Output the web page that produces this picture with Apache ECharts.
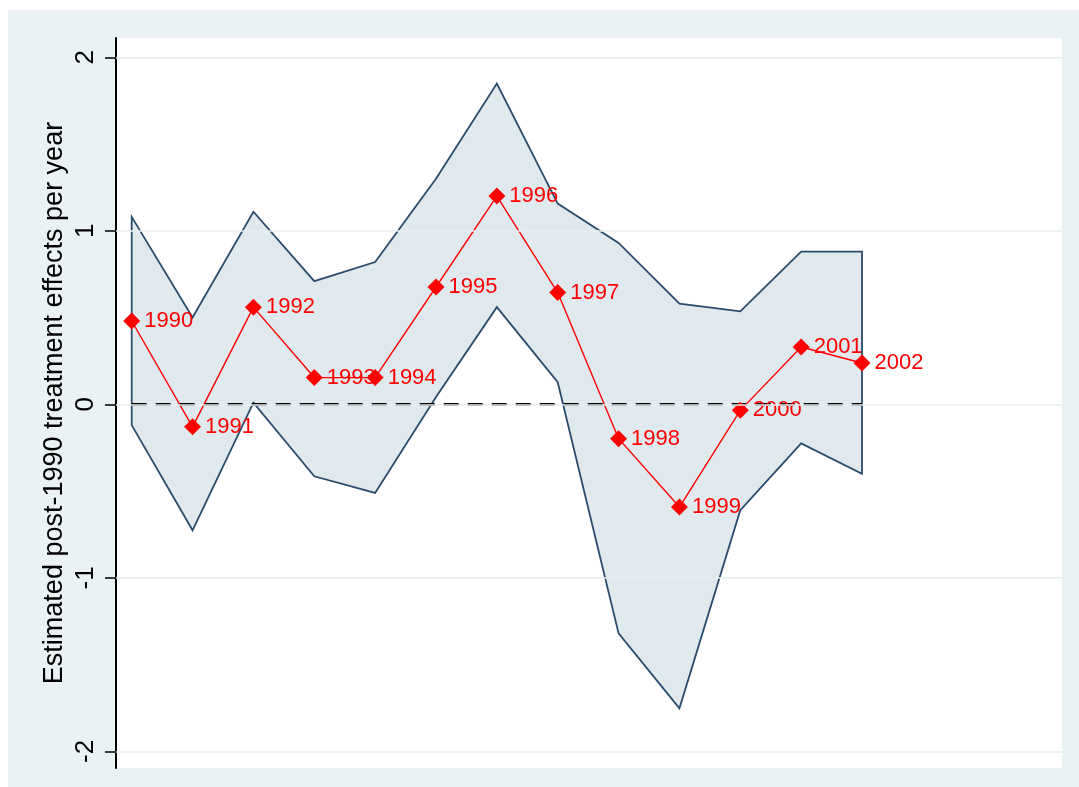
<!DOCTYPE html>
<html>
<head>
<meta charset="utf-8">
<script src="https://cdn.jsdelivr.net/npm/echarts@6/dist/echarts.min.js"></script>
<style>
  html, body { margin: 0; padding: 0; background: #ffffff; width: 1079px; height: 787px; overflow: hidden; }
  #chart { position: absolute; left: 8px; top: 10px; width: 1071px; height: 777px; }
</style>
</head>
<body>
<div id="chart"></div>
<script>
const years = [1990, 1991, 1992, 1993, 1994, 1995, 1996, 1997, 1998, 1999, 2000, 2001, 2002];
const effect = [0.48, -0.13, 0.56, 0.154, 0.154, 0.676, 1.20, 0.644, -0.198, -0.592, -0.035, 0.33, 0.238];
const upperCI = [1.08, 0.50, 1.11, 0.71, 0.82, 1.30, 1.848, 1.157, 0.93, 0.58, 0.536, 0.88, 0.88];
const lowerCI = [-0.12, -0.726, 0.01, -0.415, -0.511, 0.042, 0.56, 0.127, -1.32, -1.752, -0.61, -0.225, -0.40];
const yTicks = [-2, -1, 0, 1, 2];
const zeroLine = [[1990, 0], [2002, 0]];
const yTitle = 'Estimated post-1990 treatment effects per year';

const FONT = '"Liberation Sans", Arial, sans-serif';
const chart = echarts.init(document.getElementById('chart'));

const option = {
  animation: false,
  backgroundColor: '#eaf2f3',
  grid: {
    left: 108, top: 28, right: 17, bottom: 19,
    show: true, backgroundColor: '#ffffff', borderWidth: 0
  },
  xAxis: {
    type: 'value', min: 1989.742, max: 2005.286,
    show: false
  },
  yAxis: {
    type: 'value', min: -2.096, max: 2.111,
    name: yTitle, nameLocation: 'middle', nameRotate: 90, nameGap: 48,
    nameMoveOverlap: false,
    nameTextStyle: { fontFamily: FONT, fontSize: 27, color: '#000' },
    axisLine: { show: true, lineStyle: { color: '#000', width: 2 } },
    axisTick: { show: true, length: 11, customValues: yTicks, lineStyle: { color: '#000', width: 1.5 } },
    axisLabel: { customValues: yTicks, rotate: 90, margin: 17, fontFamily: FONT, fontSize: 26, color: '#000' },
    splitLine: { show: false }
  },
  series: [
    {
      type: 'custom',
      z: 1,
      silent: true,
      data: years.map((y, i) => [y, lowerCI[i], upperCI[i]]),
      encode: { x: 0, y: [1, 2] },
      renderItem: function (params, api) {
        if (params.dataIndex !== 0) return null;
        const pts = [];
        for (let i = 0; i < years.length; i++) pts.push(api.coord([years[i], upperCI[i]]));
        for (let i = years.length - 1; i >= 0; i--) pts.push(api.coord([years[i], lowerCI[i]]));
        return {
          type: 'polygon',
          shape: { points: pts },
          style: { fill: '#e0e9ee', stroke: '#2b4c6c', lineWidth: 1.8 }
        };
      }
    },
    {
      type: 'line',
      z: 0,
      silent: true,
      data: [],
      markLine: {
        silent: true,
        symbol: 'none',
        label: { show: false },
        lineStyle: { color: '#e6eef1', width: 1.5, type: 'solid' },
        data: yTicks.map(v => ({ yAxis: v }))
      }
    },
    {
      type: 'line',
      z: 2,
      silent: true,
      data: zeroLine,
      symbol: 'none',
      lineStyle: { color: '#000', width: 2.8, type: [15, 9] }
    },
    {
      type: 'line',
      z: 3,
      data: years.map((y, i) => [y, effect[i]]),
      symbol: 'diamond',
      symbolSize: 17,
      itemStyle: { color: '#ff0000' },
      lineStyle: { color: '#ff0000', width: 1.4 },
      label: {
        show: true, position: 'right', distance: 4,
        color: '#ff0000', fontFamily: FONT, fontSize: 22,
        formatter: p => String(p.value[0])
      }
    }
  ]
};
chart.setOption(option);
</script>
</body>
</html>
